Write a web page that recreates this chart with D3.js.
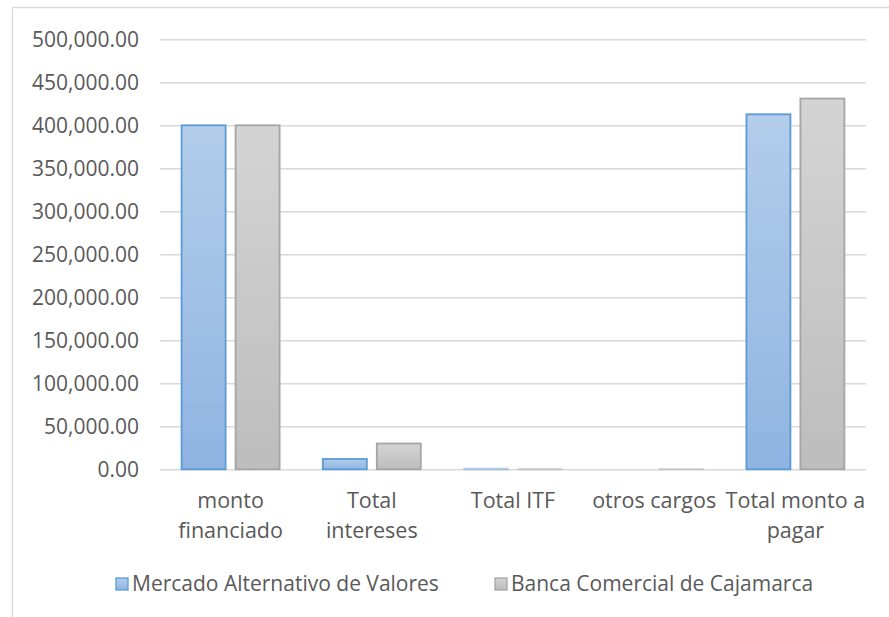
<!DOCTYPE html>
<html>
<head>
<meta charset="utf-8">
<script src="https://cdn.jsdelivr.net/npm/d3@7"></script>
<style>
  body { margin: 0; background: #fff; }
  svg { display: block; }
</style>
</head>
<body>
<script>
// data
const categories = ["monto financiado", "Total intereses", "Total ITF", "otros cargos", "Total monto a pagar"]
// how the category labels wrap under the bars
const categoryLines = [["monto", "financiado"], ["Total", "intereses"], ["Total ITF"], ["otros cargos"], ["Total monto a", "pagar"]]
const seriesNames = ["Mercado Alternativo de Valores", "Banca Comercial de Cajamarca"]
const mercadoValues = [400000, 12000, 800, 0, 412800]
const bancaValues = [400000, 30000, 600, 500, 431100]
const yTicks = [0, 50000, 100000, 150000, 200000, 250000, 300000, 350000, 400000, 450000, 500000]

const width = 889
const height = 617
const marginLeft = 160
const marginRight = 23
const plotTop = 39.3
const plotBottom = 469.3

const textColor = "#595959"
const gridColor = "#d9d9d9"
const fontFamily = "'Open Sans', sans-serif"

const seriesStyle = [
    { id: "gBlue", top: "#b3cdea", bottom: "#8fb4e2", stroke: "#5b9bd5" },
    { id: "gGray", top: "#d4d4d4", bottom: "#bdbdbd", stroke: "#a5a5a5" }
]

const svg = d3.select("body").append("svg")
    .attr("width", width)
    .attr("height", height)

const defs = svg.append("defs")
seriesStyle.forEach(s => {
    const g = defs.append("linearGradient")
        .attr("id", s.id)
        .attr("x1", 0).attr("y1", 0).attr("x2", 0).attr("y2", 1)
    g.append("stop").attr("offset", "0%").attr("stop-color", s.top)
    g.append("stop").attr("offset", "100%").attr("stop-color", s.bottom)
})

// chart area border (only left and top show in the picture)
svg.append("path")
    .attr("d", `M12.5,${height + 5}V7.5H${width + 5}`)
    .attr("fill", "none")
    .attr("stroke", gridColor)
    .attr("stroke-width", 1.3)

const x0 = d3.scaleBand()
    .domain(categories)
    .range([marginLeft, width - marginRight])

const x1 = d3.scaleBand()
    .domain(seriesNames)
    .range([0, x0.bandwidth()])
    .paddingInner(0.185)
    .paddingOuter(0.4)

const y = d3.scaleLinear()
    .domain([0, 500000])
    .range([plotBottom, plotTop])

// gridlines + y labels
const yAxis = d3.axisLeft(y)
    .tickValues(yTicks)
    .tickSize(-(width - marginRight - marginLeft))
    .tickPadding(21)
    .tickFormat(d3.format(",.2f"))

svg.append("g")
    .attr("transform", `translate(${marginLeft},0)`)
    .call(yAxis)
    .call(g => g.select(".domain").remove())
    .call(g => g.selectAll(".tick line")
        .attr("stroke", gridColor)
        .attr("stroke-width", 1.6))
    .call(g => g.selectAll(".tick text")
        .attr("fill", textColor)
        .attr("font-family", fontFamily)
        .attr("font-size", 21)
        .attr("dy", "0.36em"))

// bars
const rows = categories.map((c, i) => ({
    category: c,
    values: [mercadoValues[i], bancaValues[i]]
}))

svg.append("g")
    .selectAll("g")
    .data(rows)
    .join("g")
    .attr("transform", d => `translate(${x0(d.category)},0)`)
    .selectAll("rect")
    .data(d => d.values.map((v, j) => ({ v, j })))
    .join("rect")
    .attr("x", d => x1(seriesNames[d.j]))
    .attr("y", d => y(d.v))
    .attr("width", x1.bandwidth())
    .attr("height", d => y(0) - y(d.v))
    .attr("fill", d => `url(#${seriesStyle[d.j].id})`)
    .attr("stroke", d => d.v > 0 ? seriesStyle[d.j].stroke : "none")
    .attr("stroke-opacity", d => y(0) - y(d.v) < 3 ? 0.35 : 1)
    .attr("stroke-width", 1.8)

// category labels
svg.append("g")
    .attr("font-family", fontFamily)
    .attr("font-size", 21.5)
    .attr("fill", textColor)
    .attr("text-anchor", "middle")
    .selectAll("text")
    .data(categories)
    .join("text")
    .attr("y", 508)
    .each(function (c, i) {
        const cx = x0(c) + x0.bandwidth() / 2
        d3.select(this).selectAll("tspan")
            .data(categoryLines[i])
            .join("tspan")
            .attr("x", cx)
            .attr("dy", (l, k) => k === 0 ? 0 : 29.5)
            .text(l => l)
    })

// legend
const legendX = [116, 495]
const legend = svg.append("g")
    .selectAll("g")
    .data(seriesNames)
    .join("g")
    .attr("transform", (d, i) => `translate(${legendX[i]},578)`)

legend.append("rect")
    .attr("width", 12)
    .attr("height", 12)
    .attr("fill", (d, i) => `url(#${seriesStyle[i].id})`)
    .attr("stroke", (d, i) => seriesStyle[i].stroke)
    .attr("stroke-width", 1.3)

legend.append("text")
    .attr("x", 16)
    .attr("y", 13)
    .attr("font-family", fontFamily)
    .attr("font-size", 21)
    .attr("fill", textColor)
    .text(d => d)
</script>
</body>
</html>
